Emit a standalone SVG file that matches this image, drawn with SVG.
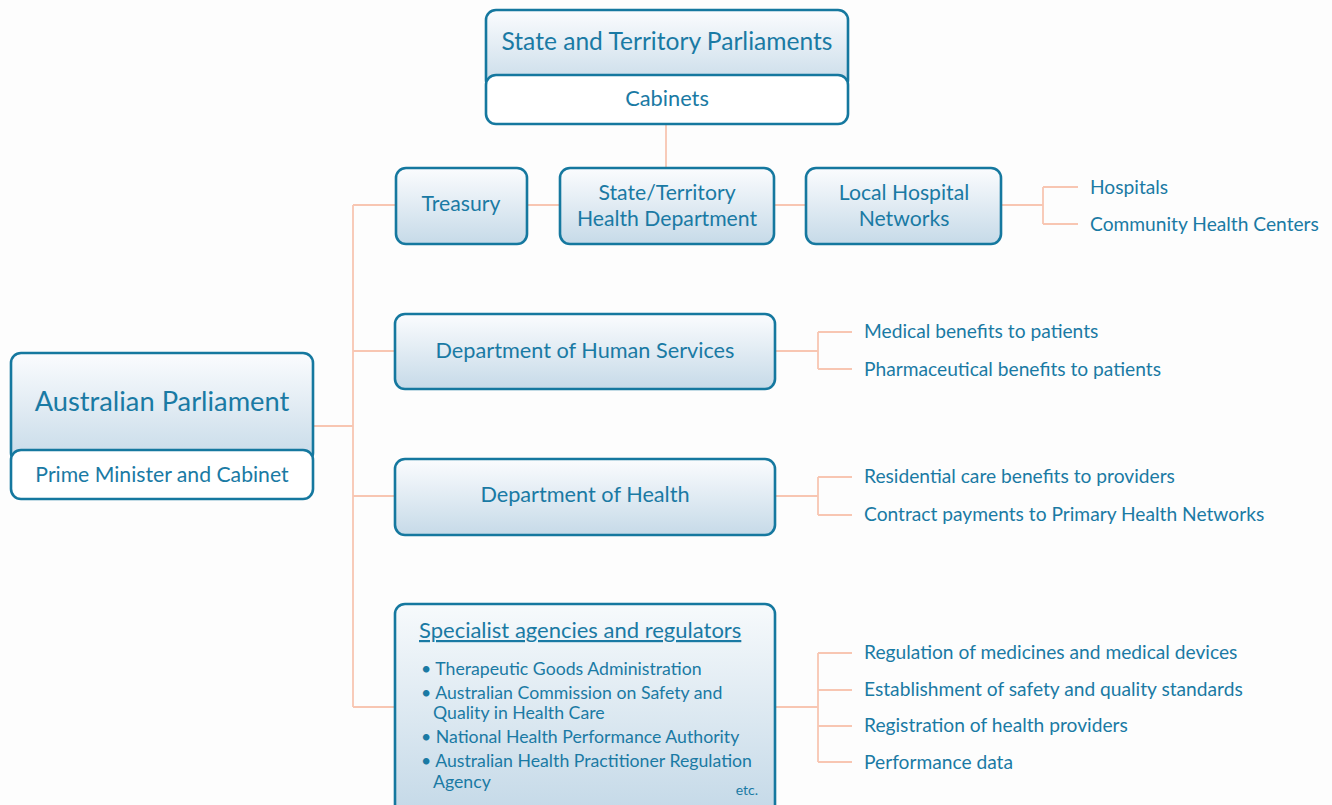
<svg xmlns="http://www.w3.org/2000/svg" width="1332" height="805" viewBox="0 0 1332 805">
<defs>
<linearGradient id="g" x1="0" y1="0" x2="0" y2="1">
<stop offset="0" stop-color="#fbfcfe"/>
<stop offset="1" stop-color="#c6dae8"/>
</linearGradient>
<linearGradient id="gs" x1="0" y1="0" x2="0" y2="1">
<stop offset="0" stop-color="#f7fafc"/>
<stop offset="1" stop-color="#c3d8e7"/>
</linearGradient>
<style>
.box{fill:url(#g);stroke:#15789f;stroke-width:2.6}
.wbox{fill:#ffffff;stroke:#15789f;stroke-width:2.6}
.t{font-family:Lato,"Noto Sans",sans-serif;fill:#1a7aa4}
.c{text-anchor:middle}
.ln{fill:none;stroke:#f8c6b2;stroke-width:1.8}
.r{font-size:19.2px}
.b{font-size:17.7px}
.n{font-size:21.2px}
</style>
</defs>
<rect width="1332" height="805" fill="#fdfdfd"/>
<g id="connectors">
<path class="ln" d="M666 124V168"/>
<path class="ln" d="M313 426H353M353 205V707M353 205H396M353 351H395M353 496H395M353 707H395"/>
<path class="ln" d="M527 205H560M774 205H806"/>
<path class="ln" d="M1001 205H1043M1043 187V224M1043 187H1078M1043 224H1078"/>
<path class="ln" d="M775 351H818M818 332V369M818 332H852M818 369H852"/>
<path class="ln" d="M775 496H818M818 477V515M818 477H852M818 515H852"/>
<path class="ln" d="M775 707H818M818 653V762M818 653H852M818 690H852M818 726H852M818 762H852"/>
</g>
<g id="state-parliaments">
<rect class="box" x="486" y="10" width="362" height="80" rx="10"/>
<rect class="wbox" x="486" y="75" width="362" height="49" rx="10"/>
<text class="t c" x="667" y="50" font-size="24.6">State and Territory Parliaments</text>
<text class="t c" x="667" y="106" font-size="21.8">Cabinets</text>
</g>
<g id="treasury">
<rect class="box" x="396" y="168" width="131" height="76" rx="10"/>
<text class="t c n" x="461" y="211">Treasury</text>
</g>
<g id="state-health">
<rect class="box" x="560" y="168" width="214" height="76" rx="10"/>
<text class="t c n" x="667" y="200">State/Territory</text>
<text class="t c n" x="667" y="226">Health Department</text>
</g>
<g id="lhn">
<rect class="box" x="806" y="168" width="195" height="76" rx="10"/>
<text class="t c n" x="904" y="200">Local Hospital</text>
<text class="t c n" x="904" y="226">Networks</text>
</g>
<g id="lhn-items">
<text class="t r" x="1090" y="194">Hospitals</text>
<text class="t r" x="1090" y="231">Community Health Centers</text>
</g>
<g id="australian-parliament">
<rect class="box" x="11" y="353" width="302" height="110" rx="10"/>
<rect class="wbox" x="11" y="450" width="302" height="49" rx="10"/>
<text class="t c" x="162" y="411" font-size="27.3">Australian Parliament</text>
<text class="t c n" x="162" y="482">Prime Minister and Cabinet</text>
</g>
<g id="dhs">
<rect class="box" x="395" y="314" width="380" height="75" rx="10"/>
<text class="t c" x="585" y="358" font-size="21.7">Department of Human Services</text>
</g>
<g id="dhs-items">
<text class="t r" x="864" y="338">Medical benefits to patients</text>
<text class="t r" x="864" y="376">Pharmaceutical benefits to patients</text>
</g>
<g id="doh">
<rect class="box" x="395" y="459" width="380" height="76" rx="10"/>
<text class="t c" x="585" y="502" font-size="21.7">Department of Health</text>
</g>
<g id="doh-items">
<text class="t r" x="864" y="483">Residential care benefits to providers</text>
<text class="t r" x="864" y="521">Contract payments to Primary Health Networks</text>
</g>
<g id="specialist">
<rect x="395" y="604" width="380" height="215" rx="10" fill="url(#gs)" stroke="#15789f" stroke-width="2.6"/>
<text class="t" x="419" y="638" font-size="22" text-decoration="underline">Specialist agencies and regulators</text>
<text class="t b" x="421" y="675">• Therapeutic Goods Administration</text>
<text class="t b" x="421" y="699">• Australian Commission on Safety and</text>
<text class="t b" x="433" y="719">Quality in Health Care</text>
<text class="t b" x="421" y="743">• National Health Performance Authority</text>
<text class="t b" x="421" y="767">• Australian Health Practitioner Regulation</text>
<text class="t b" x="433" y="788">Agency</text>
<text class="t" x="758" y="795" font-size="14" text-anchor="end">etc.</text>
</g>
<g id="specialist-items">
<text class="t r" x="864" y="659">Regulation of medicines and medical devices</text>
<text class="t r" x="864" y="696">Establishment of safety and quality standards</text>
<text class="t r" x="864" y="732">Registration of health providers</text>
<text class="t r" x="864" y="769">Performance data</text>
</g>
</svg>
